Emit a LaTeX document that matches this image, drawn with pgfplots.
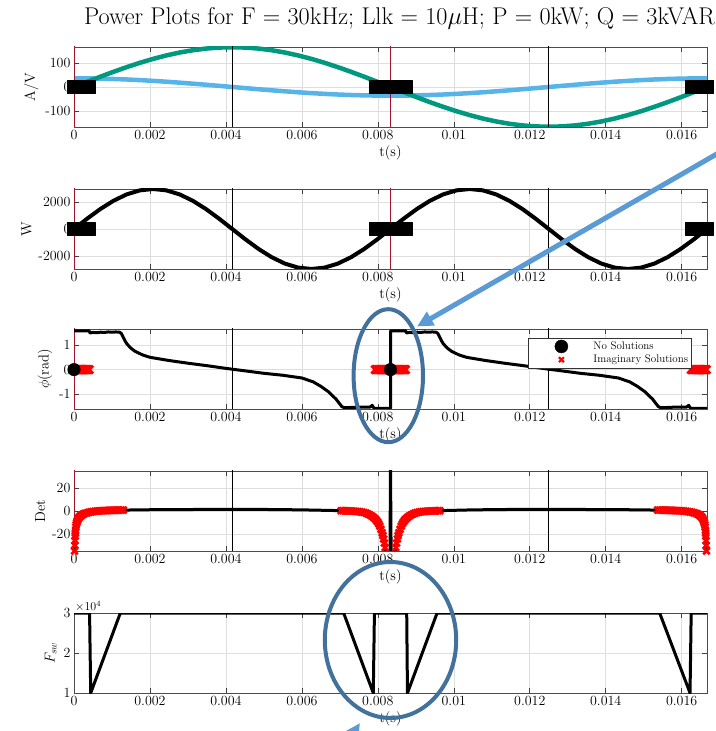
\documentclass[border=0pt]{standalone}
\usepackage{fontspec}
\usepackage{pgfplots}
\usepackage{pgfplotstable}
\pgfplotsset{compat=1.18}
\usetikzlibrary{arrows.meta}
\definecolor{mgreen}{RGB}{0,153,128}
\definecolor{mblue}{RGB}{86,180,233}
\definecolor{mred}{RGB}{162,20,47}
\definecolor{annlight}{RGB}{91,155,213}
\definecolor{anndark}{RGB}{65,113,156}

\pgfplotstableread{
t v i p
0 0 36 0
0.000347 21.54 35.69 768.7
0.000694 42.71 34.77 1485
0.001042 63.14 33.26 2100.1
0.001389 82.5 31.18 2572.1
0.001736 100.45 28.56 2868.8
0.002083 116.67 25.46 2970
0.002431 130.90 21.92 2868.8
0.002778 142.89 18 2572.1
0.003125 152.44 13.78 2100.1
0.003472 159.38 9.32 1485
0.003819 163.59 4.70 768.7
0.004167 165 0 0
0.004514 163.59 -4.70 -768.7
0.004861 159.38 -9.32 -1485
0.005208 152.44 -13.78 -2100.1
0.005556 142.89 -18 -2572.1
0.005903 130.90 -21.92 -2868.8
0.00625 116.67 -25.46 -2970
0.006597 100.45 -28.56 -2868.8
0.006944 82.5 -31.18 -2572.1
0.007292 63.14 -33.26 -2100.1
0.007639 42.71 -34.77 -1485
0.007986 21.54 -35.69 -768.7
0.008333 0 -36 0
0.008681 -21.54 -35.69 768.7
0.009028 -42.71 -34.77 1485
0.009375 -63.14 -33.26 2100.1
0.009722 -82.5 -31.18 2572.1
0.010069 -100.45 -28.56 2868.8
0.010417 -116.67 -25.46 2970
0.010764 -130.90 -21.92 2868.8
0.011111 -142.89 -18 2572.1
0.011458 -152.44 -13.78 2100.1
0.011806 -159.38 -9.32 1485
0.012153 -163.59 -4.70 768.7
0.0125 -165 0 0
0.012847 -163.59 4.70 -768.7
0.013194 -159.38 9.32 -1485
0.013542 -152.44 13.78 -2100.1
0.013889 -142.89 18 -2572.1
0.014236 -130.90 21.92 -2868.8
0.014583 -116.67 25.46 -2970
0.014931 -100.45 28.56 -2868.8
0.015278 -82.5 31.18 -2572.1
0.015625 -63.14 33.26 -2100.1
0.015972 -42.71 34.77 -1485
0.016319 -21.54 35.69 -768.7
0.016667 0 36 0
}\waves

\pgfplotstableread{
t y
0 0
0.000025 0
0.00005 0
0.000075 0
0.0001 0
0.000125 0
0.00015 0
0.000175 0
0.0002 0
0.000225 0
0.00025 0
0.000275 0
0.0003 0
0.000325 0
0.00035 0
0.000375 0
0.0004 0
0.00793 0
0.007955 0
0.00798 0
0.008005 0
0.00803 0
0.008055 0
0.00808 0
0.008105 0
0.00813 0
0.008155 0
0.00818 0
0.008205 0
0.00823 0
0.008255 0
0.00828 0
0.008305 0
0.00833 0
0.008355 0
0.00838 0
0.008405 0
0.00843 0
0.008455 0
0.00848 0
0.008505 0
0.00853 0
0.008555 0
0.00858 0
0.008605 0
0.00863 0
0.008655 0
0.00868 0
0.008705 0
0.00873 0
0.01625 0
0.016275 0
0.0163 0
0.016325 0
0.01635 0
0.016375 0
0.0164 0
0.016425 0
0.01645 0
0.016475 0
0.0165 0
0.016525 0
0.01655 0
0.016575 0
0.0166 0
0.016625 0
0.01665 0
}\nosol

\pgfplotsset{
 wideleg/.style={legend image code/.code={\draw[##1] plot coordinates {(31pt,0pt)}; \path (0pt,0pt) (60pt,0pt);}},
 panel/.style={
  scale only axis, width=633pt, height=80pt,
  anchor=south west,
  xmin=0, xmax=0.0166667,
  xtick={0,0.002,0.004,0.006,0.008,0.01,0.012,0.014,0.016},
  xticklabels={0,0.002,0.004,0.006,0.008,0.01,0.012,0.014,0.016},
  scaled x ticks=false,
  grid=major,
  major grid style={black!13, line width=0.6pt},
  axis line style={black!70, line width=0.8pt},
  tick align=inside, tick pos=both,
  major tick length=5pt,
  tick style={black!75, line width=0.6pt},
  tick label style={font=\fontsize{14}{16}\selectfont},
  xlabel={t(s)},
  label style={font=\fontsize{14.5}{16}\selectfont},
  xlabel style={yshift=2pt},
  clip mode=individual,
  every axis plot/.append style={line join=round},
 },
}

\begin{document}
\begin{tikzpicture}[x=1pt,y=1pt]
\path[use as bounding box] (0,0) rectangle (715,731);

\node[font=\fontsize{24.2}{28}\selectfont] at (399.5,713) {Power Plots for F = 30kHz; Llk = 10$\mu$H; P = 0kW; Q = 3kVAR};

% ---------- panel 1
\begin{axis}[panel, at={(74pt,604pt)}, ymin=-166, ymax=166,
  ytick={-100,0,100}, yticklabels={-100,0,100}, ylabel={A/V}]
\addplot[mblue, line width=4.5pt] table[x=t,y=i] {\waves};
\addplot[mgreen, line width=4.5pt] table[x=t,y=v] {\waves};
\addplot[black, line width=0.8pt] coordinates {(0.0041667,-200)(0.0041667,200)};
\addplot[black, line width=0.8pt] coordinates {(0.0125,-200)(0.0125,200)};
\addplot[mred, line width=0.8pt] coordinates {(0.0083333,-200)(0.0083333,200)};
\addplot[mred, line width=1pt] coordinates {(0.00001,-200)(0.00001,200)};
\addplot[only marks, mark=square*, mark size=6.35pt, black] table[x=t,y=y] {\nosol};
\end{axis}

% ---------- panel 2
\begin{axis}[panel, at={(74pt,462pt)}, ymin=-2970, ymax=2970,
  ytick={-2000,0,2000}, yticklabels={-2000,0,2000}, ylabel={W}]
\addplot[black, line width=4pt] table[x=t,y=p] {\waves};
\addplot[black, line width=0.8pt] coordinates {(0.0041667,-4000)(0.0041667,4000)};
\addplot[black, line width=0.8pt] coordinates {(0.0125,-4000)(0.0125,4000)};
\addplot[mred, line width=0.8pt] coordinates {(0.0083333,-4000)(0.0083333,4000)};
\addplot[mred, line width=1pt] coordinates {(0.00001,-4000)(0.00001,4000)};
\addplot[only marks, mark=square*, mark size=6.35pt, black] table[x=t,y=y] {\nosol};
\end{axis}

% ---------- panel 3
\begin{axis}[panel, at={(74pt,322pt)}, ymin=-1.6, ymax=1.65,
  ytick={-1,0,1}, yticklabels={-1,0,1}, ylabel={$\phi$(rad)},
  legend style={at={(0.976,0.886)}, anchor=north east,
    font=\fontsize{11}{13}\selectfont, draw=black!80, fill=white,
    inner sep=1.5pt, row sep=0pt, cells={anchor=west}}]
\addlegendimage{only marks, mark=*, mark size=6.5pt, black, wideleg}
\addlegendentry{No Solutions}
\addlegendimage{only marks, mark=x, mark size=3.5pt, red, line width=2.2pt, wideleg}
\addlegendentry{Imaginary Solutions}
\addplot[black, line width=0.8pt, forget plot] coordinates {(0.0041667,-2)(0.0041667,2)};
\addplot[black, line width=0.8pt, forget plot] coordinates {(0.0125,-2)(0.0125,2)};
\addplot[mred, line width=1pt, forget plot] coordinates {(0.00001,-2)(0.00001,2)};
\addplot[black, line width=3pt, forget plot] coordinates {
(0,1.57)(0.0004,1.57)(0.00042,1.49)(0.0005,1.51)(0.0006,1.50)(0.0007,1.52)(0.0008,1.51)(0.0009,1.53)(0.001,1.52)(0.0011,1.53)(0.0012,1.52)
(0.00125,1.46)(0.0013,1.3)(0.00135,1.15)(0.0014,1.03)(0.0015,0.87)(0.0016,0.75)(0.0018,0.6)(0.002,0.5)(0.0025,0.37)(0.003,0.26)(0.0035,0.16)
(0.004,0.05)(0.0045,-0.05)(0.005,-0.15)(0.0055,-0.23)(0.006,-0.34)(0.0063,-0.5)(0.0065,-0.68)(0.0067,-0.9)(0.0068,-1.05)(0.0069,-1.2)(0.007,-1.4)
(0.00705,-1.5)(0.00712,-1.55)(0.0074,-1.53)(0.0076,-1.52)(0.0078,-1.52)(0.00785,-1.45)(0.0079,-1.57)(0.0083333,-1.57)
(0.0083334,1.57)(0.0087333,1.57)(0.0087533,1.49)(0.0088333,1.51)(0.0089333,1.50)(0.0090333,1.52)(0.0091333,1.51)(0.0092333,1.53)(0.0093333,1.52)
(0.0094333,1.53)(0.0095333,1.52)(0.0095833,1.46)(0.0096333,1.3)(0.0096833,1.15)(0.0097333,1.03)(0.0098333,0.87)(0.0099333,0.75)(0.0101333,0.6)
(0.0103333,0.5)(0.0108333,0.37)(0.0113333,0.26)(0.0118333,0.16)(0.0123333,0.05)(0.0128333,-0.05)(0.0133333,-0.15)(0.0138333,-0.23)(0.0143333,-0.34)
(0.0146333,-0.5)(0.0148333,-0.68)(0.0150333,-0.9)(0.0151333,-1.05)(0.0152333,-1.2)(0.0153333,-1.4)(0.0153833,-1.5)(0.0154533,-1.55)(0.0157333,-1.53)
(0.0159333,-1.52)(0.0161333,-1.52)(0.0161833,-1.45)(0.0162333,-1.57)(0.0166667,-1.57)};
\addplot[only marks, mark=x, mark size=5.5pt, red, line width=2.8pt, forget plot] table[x=t,y=y] {\nosol};
\addplot[only marks, mark=*, mark size=6.3pt, black, forget plot] coordinates {(0,0)(0.0083333,0)};
\end{axis}

% ---------- panel 4
\begin{axis}[panel, at={(74pt,180pt)}, ymin=-35, ymax=35,
  ytick={-20,0,20}, yticklabels={-20,0,20}, ylabel={Det}]
\addplot[black, line width=0.8pt] coordinates {(0.0041667,-50)(0.0041667,50)};
\addplot[black, line width=0.8pt] coordinates {(0.0125,-50)(0.0125,50)};
\addplot[mred, line width=1pt] coordinates {(0.00001,-50)(0.00001,50)};
\addplot[black, line width=3pt] coordinates {
(0.00001,-40)(0.00002,-30)(0.00004,-17)(0.00008,-9.3)(0.00015,-5)(0.0003,-2)(0.0005,-0.5)(0.0008,0.35)(0.0013,0.8)(0.002,1.1)(0.003,1.3)
(0.0042,1.4)(0.005,1.35)(0.006,1.0)(0.0070333,0.3)(0.0073333,-0.1)(0.0076333,-1.3)(0.0078333,-4.3)(0.0079933,-9.6)(0.0080833,-16)(0.0081533,-24.5)
(0.0082133,-36)(0.00832,-40)(0.0083333,40)(0.00835,-40)(0.0084533,-36)(0.0085133,-24.5)(0.0085833,-16)(0.0086733,-9.6)(0.0088333,-4.3)
(0.0090333,-1.3)(0.0093333,-0.1)(0.0096333,0.3)(0.0105,1.0)(0.0115,1.35)(0.0125,1.4)(0.0136,1.3)(0.0146,1.1)(0.0153667,0.8)(0.0158667,0.35)
(0.0161667,-0.5)(0.0163667,-2)(0.0165167,-5)(0.0165867,-9.3)(0.0166267,-17)(0.0166467,-30)(0.0166567,-40)};
\addplot[only marks, mark=x, mark size=4.6pt, red, line width=2.6pt] coordinates {
(0.00001,-40)(0.000015,-35)(0.00002,-30)(0.000025,-26)(0.00003,-22)(0.000035,-19.5)(0.00004,-17)(0.00005,-14)(0.00006,-12)(0.00007,-10.5)
(0.00008,-9.3)(0.00009,-8.4)(0.0001,-7.6)(0.00012,-6.3)(0.00014,-5.4)(0.00016,-4.7)(0.00018,-4.1)(0.0002,-3.6)(0.00023,-3.0)(0.00026,-2.5)
(0.0003,-2.0)(0.00035,-1.5)(0.0004,-1.1)(0.00045,-0.8)(0.0005,-0.5)(0.00055,-0.3)(0.0006,-0.1)(0.00065,0.02)(0.0007,0.15)(0.00075,0.25)
(0.0008,0.35)(0.00085,0.43)(0.0009,0.5)(0.00095,0.55)(0.001,0.6)(0.00105,0.65)(0.0011,0.7)(0.00115,0.72)(0.0012,0.75)(0.00125,0.78)(0.0013,0.8)
(0.0070333,0.3)(0.0070833,0.25)(0.0071333,0.2)(0.0071833,0.12)(0.0072333,0.05)(0.0072833,-0.02)(0.0073333,-0.1)(0.0073833,-0.22)(0.0074333,-0.35)
(0.0074833,-0.5)(0.0075333,-0.7)(0.0075833,-1.0)(0.0076333,-1.3)(0.0076833,-1.8)(0.0077333,-2.5)(0.0077833,-3.3)(0.0078333,-4.3)(0.0078833,-5.5)
(0.0079333,-7)(0.0079633,-8.2)(0.0079933,-9.6)(0.0080233,-11.3)(0.0080533,-13.3)(0.0080833,-16)(0.0081133,-19)(0.0081333,-21.5)(0.0081533,-24.5)
(0.0081733,-28)(0.0081933,-32)(0.0082133,-36)
(0.0084533,-36)(0.0084733,-32)(0.0084933,-28)(0.0085133,-24.5)(0.0085333,-21.5)(0.0085533,-19)(0.0085833,-16)(0.0086133,-13.3)(0.0086433,-11.3)
(0.0086733,-9.6)(0.0087033,-8.2)(0.0087333,-7)(0.0087833,-5.5)(0.0088333,-4.3)(0.0088833,-3.3)(0.0089333,-2.5)(0.0089833,-1.8)(0.0090333,-1.3)
(0.0090833,-1.0)(0.0091333,-0.7)(0.0091833,-0.5)(0.0092333,-0.35)(0.0092833,-0.22)(0.0093333,-0.1)(0.0093833,-0.02)(0.0094333,0.05)(0.0094833,0.12)
(0.0095333,0.2)(0.0095833,0.25)(0.0096333,0.3)
(0.0153667,0.8)(0.0154167,0.78)(0.0154667,0.75)(0.0155167,0.72)(0.0155667,0.7)(0.0156167,0.65)(0.0156667,0.6)(0.0157167,0.55)(0.0157667,0.5)
(0.0158167,0.43)(0.0158667,0.35)(0.0159167,0.25)(0.0159667,0.15)(0.0160167,0.02)(0.0160667,-0.1)(0.0161167,-0.3)(0.0161667,-0.5)(0.0162167,-0.8)
(0.0162667,-1.1)(0.0163167,-1.5)(0.0163667,-2.0)(0.0164067,-2.5)(0.0164367,-3.0)(0.0164667,-3.6)(0.0164867,-4.1)(0.0165067,-4.7)(0.0165267,-5.4)
(0.0165467,-6.3)(0.0165667,-7.6)(0.0165767,-8.4)(0.0165867,-9.3)(0.0165967,-10.5)(0.0166067,-12)(0.0166167,-14)(0.0166267,-17)(0.0166317,-19.5)
(0.0166367,-22)(0.0166417,-26)(0.0166467,-30)(0.0166517,-35)(0.0166567,-40)};
\addplot[black, line width=2.5pt] coordinates {(0.0083333,40)(0.0083333,-6)};
\end{axis}

% ---------- panel 5
\begin{axis}[panel, at={(74pt,38pt)}, ymin=10000, ymax=30000,
  ytick={10000,20000,30000}, yticklabels={1,2,3}, scaled y ticks=false,
  ylabel={$F_{sw}$}]
\addplot[black, line width=3pt] coordinates {
(0,30000)(0.00041,30000)(0.00044,10000)(0.00122,30000)(0.0071,30000)(0.00788,10000)(0.00791,30000)(0.00876,30000)(0.00878,10000)
(0.00956,30000)(0.01542,30000)(0.01622,10000)(0.01625,30000)(0.0166667,30000)};
\node[anchor=south west, font=\fontsize{12}{14}\selectfont, inner sep=1pt] at (rel axis cs:0,1) {$\times10^{4}$};
\end{axis}

% ---------- annotations
\draw[annlight, line width=5pt, -{Triangle[length=16pt,width=15pt]}] (722,580) -- (417,404.5);
\draw[anndark, line width=4pt] (388.3,355.3) ellipse [x radius=34.7, y radius=66.5];
\draw[anndark, line width=4pt] (390.5,91) ellipse [x radius=65.7, y radius=78];
\draw[annlight, line width=5pt, -{Triangle[length=16pt,width=15pt]}] (335,-30) -- (360,8);
\end{tikzpicture}
\end{document}
